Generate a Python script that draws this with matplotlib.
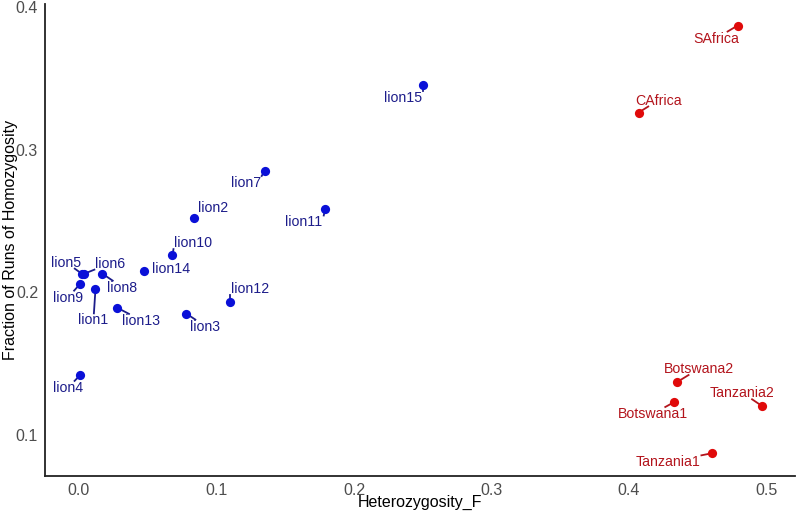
import matplotlib
matplotlib.use("Agg")
import matplotlib.pyplot as plt
from matplotlib.lines import Line2D
from matplotlib.transforms import IdentityTransform

# ---- data ----
lion_names = ["lion1", "lion2", "lion3", "lion4", "lion5", "lion6", "lion7", "lion8",
              "lion9", "lion10", "lion11", "lion12", "lion13", "lion14", "lion15"]
lion_het = [0.012, 0.084, 0.078, 0.001, 0.002, 0.004, 0.135, 0.017,
            0.001, 0.068, 0.179, 0.110, 0.028, 0.047, 0.250]
lion_froh = [0.202, 0.252, 0.185, 0.142, 0.213, 0.213, 0.285, 0.213,
             0.206, 0.226, 0.258, 0.193, 0.189, 0.215, 0.345]

pop_names = ["SAfrica", "CAfrica", "Botswana2", "Botswana1", "Tanzania2", "Tanzania1"]
pop_het = [0.479, 0.407, 0.435, 0.433, 0.497, 0.460]
pop_froh = [0.387, 0.326, 0.137, 0.123, 0.120, 0.087]

x_ticks = [0.0, 0.1, 0.2, 0.3, 0.4, 0.5]
y_ticks = [0.1, 0.2, 0.3, 0.4]

# ---- label placement (pixel offsets of label centre from point) ----
label_offsets = {
    "lion1": (-2, -31), "lion2": (19, 10), "lion3": (19, -13), "lion4": (-12, -13),
    "lion5": (-16, 11), "lion6": (26, 10), "lion7": (-19, -12), "lion8": (20, -14),
    "lion9": (-12, -14), "lion10": (21, 12), "lion11": (-21, -13), "lion12": (20, 13),
    "lion13": (24, -13), "lion14": (27, 2), "lion15": (-20, -13),
    "SAfrica": (-21, -13), "CAfrica": (20, 12), "Botswana2": (22, 13),
    "Botswana1": (-21, -12), "Tanzania2": (-20, 13), "Tanzania1": (-43, -9),
}
no_segment = {"lion2", "lion14"}
nearest_mode = {"lion7", "lion10", "lion11", "lion12", "lion15"}

plt.rcParams['font.family'] = ['Liberation Sans', 'DejaVu Sans']

fig = plt.figure(figsize=(8.0, 5.14), dpi=100)
ax = fig.add_axes([45/800, 38/514, 750/800, 472/514])

blue_pt, blue_txt = "#0a10d8", "#1c1c8a"
red_pt, red_txt = "#e00a0a", "#b3141c"

ax.scatter(lion_het, lion_froh, s=44, color=blue_pt, zorder=3, linewidths=0)
ax.scatter(pop_het, pop_froh, s=44, color=red_pt, zorder=3, linewidths=0)

ax.set_xlim(-0.0247, 0.5207)
ax.set_ylim(0.0711, 0.4021)
ax.set_xticks(x_ticks)
ax.set_yticks(y_ticks)
ax.set_xticklabels([f"{v:.1f}" for v in x_ticks])
ax.set_yticklabels([f"{v:.1f}" for v in y_ticks])
ax.tick_params(length=0, labelsize=11.5, labelcolor="#4d4d4d", pad=5)

for s in ["top", "right"]:
    ax.spines[s].set_visible(False)
for s in ["left", "bottom"]:
    ax.spines[s].set_linewidth(1.3)
    ax.spines[s].set_color("#222222")

ax.set_xlabel("Heterozygosity_F", fontsize=11.5, color="black")
ax.set_ylabel("Fraction of Runs of Homozygosity", fontsize=11.5, color="black")
ax.xaxis.set_label_coords(0.5, -0.040)
ax.yaxis.set_label_coords(-0.036, 0.5)

texts = []
def label(names, xs, ys, col):
    for n, x, y in zip(names, xs, ys):
        dx, dy = label_offsets[n]
        t = ax.annotate(n, (x, y), xytext=(dx, dy), textcoords='offset pixels',
                        ha='center', va='center', fontsize=10.2, color=col, zorder=4)
        texts.append((t, n, x, y, col))

label(lion_names, lion_het, lion_froh, blue_txt)
label(pop_names, pop_het, pop_froh, red_txt)

fig.canvas.draw()
renderer = fig.canvas.get_renderer()
pad = 2.0
for t, n, x, y, col in texts:
    if n in no_segment:
        continue
    bb = t.get_window_extent(renderer)
    px, py = ax.transData.transform((x, y))
    # approximate ink box of the label
    ix0, ix1 = bb.x0, bb.x1
    iy0, iy1 = bb.y0 + 3, bb.y1 - 2
    bx0, bx1, by0, by1 = ix0 - pad, ix1 + pad, iy0 - pad, iy1 + pad
    if n in nearest_mode:
        ex = min(max(px, bx0 + 1), bx1 - 1)
        ey = min(max(py, by0), by1)
    else:
        cx, cy = (ix0 + ix1) / 2, (iy0 + iy1) / 2
        dx, dy = cx - px, cy - py
        ts = [0.0]
        if dx > 0:
            ts.append((bx0 - px) / dx)
        elif dx < 0:
            ts.append((bx1 - px) / dx)
        if dy > 0:
            ts.append((by0 - py) / dy)
        elif dy < 0:
            ts.append((by1 - py) / dy)
        tt = max(ts)
        if tt <= 0:
            continue
        ex, ey = px + tt * dx, py + tt * dy
    ax.add_line(Line2D([px, ex], [py, ey], transform=IdentityTransform(),
                       color=col, lw=1.3, zorder=2, clip_on=False))

fig.savefig("out.png", dpi=100)
